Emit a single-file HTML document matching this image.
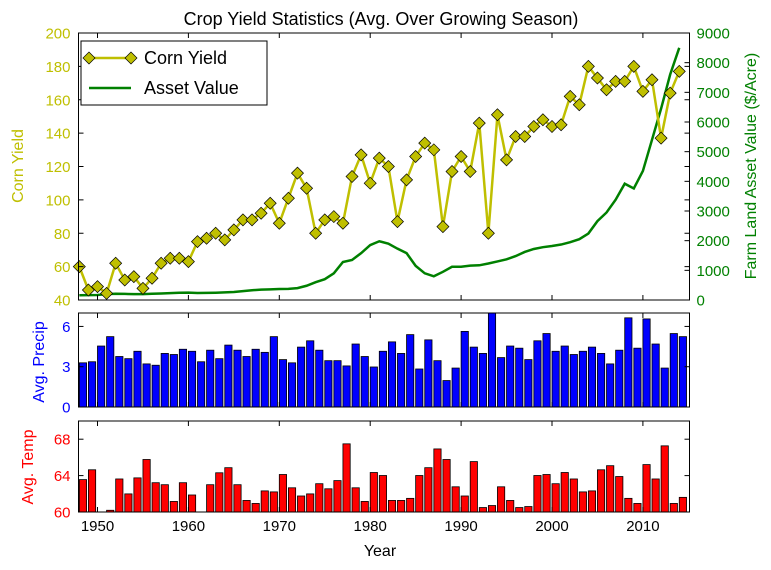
<!DOCTYPE html>
<html><head><meta charset="utf-8"><style>
body{margin:0;background:#fff}
svg{display:block;font-family:"Liberation Sans",sans-serif}
</style></head><body>
<svg id="chart" width="771" height="570" viewBox="0 0 771 570">
<rect width="771" height="570" fill="#fff"/>
<text x="381" y="25" font-size="18" text-anchor="middle">Crop Yield Statistics (Avg. Over Growing Season)</text>
<g id="g"></g>
</svg>
<script>
const years = [];
for (let y = 1948; y <= 2014; y++) years.push(y);
const cornYield = [60,46,48,44,62,52,54,47,53,62,65,65,63,75,77,80,76,82,88,88,92,98,86,101,116,107,80,88,90,86,114,127,110,125,120,87,112,126,134,130,84,117,126,117,146,80,151,124,138,138,144,148,144,145,162,157,180,173,166,171,171,180,165,172,137,164,177];
const assetValue = [160,165,170,200,210,205,200,200,210,220,230,245,250,235,240,245,255,270,300,330,350,360,370,375,400,480,600,700,900,1280,1350,1580,1850,1980,1900,1730,1580,1150,900,800,950,1120,1120,1160,1170,1230,1300,1370,1480,1620,1720,1780,1820,1870,1950,2050,2240,2660,2950,3380,3920,3760,4350,5400,6450,7600,8500];
const precip = [3.29,3.37,4.54,5.24,3.76,3.60,4.15,3.21,3.11,3.99,3.91,4.30,4.15,3.37,4.23,3.60,4.61,4.23,3.76,4.30,4.07,5.24,3.53,3.29,4.46,4.93,4.23,3.45,3.45,3.06,4.69,3.76,2.98,4.15,4.85,3.99,5.39,2.83,5.00,3.45,1.97,2.90,5.63,4.46,3.99,7.2,3.68,4.54,4.38,3.53,4.93,5.47,4.15,4.54,3.91,4.15,4.46,3.99,3.21,4.23,6.64,4.38,6.56,4.69,2.90,5.47,5.24];
const temp = [63.56,64.64,60.0,60.19,63.63,61.99,63.75,65.77,63.22,63.0,61.16,63.22,61.87,60.0,63.0,64.31,64.87,63.0,61.27,60.94,62.32,62.21,64.12,62.66,61.76,61.99,63.11,62.55,63.45,67.49,62.66,61.16,64.34,64.01,61.27,61.27,61.5,64.01,64.87,66.93,65.77,62.77,61.76,65.54,60.49,60.71,62.77,61.27,60.49,60.6,64.01,64.12,63.11,64.34,63.63,62.21,62.32,64.64,65.09,63.9,61.5,60.94,65.21,63.63,67.27,60.94,61.61];
const xTicks = [1950,1960,1970,1980,1990,2000,2010];
const yieldTicks = [40,60,80,100,120,140,160,180,200];
const assetTicks = [0,1000,2000,3000,4000,5000,6000,7000,8000,9000];
const precipTicks = [0,3,6];
const tempTicks = [60,64,68];

const NS='http://www.w3.org/2000/svg';
const G=document.getElementById('g');
function el(t,a,p){const e=document.createElementNS(NS,t);for(const k in a)e.setAttribute(k,a[k]);(p||G).appendChild(e);return e;}
const X0=78.5,X1=689.5;
const x=v=>97.5+(v-1950)*9.09;
const P1={t:33,b:300}, P2={t:313,b:407}, P3={t:421,b:512};
const yY=v=>P1.b-(v-40)/160*(P1.b-P1.t);
const yA=v=>P1.b-v/9000*(P1.b-P1.t);
const yP=v=>P2.b-Math.min(v,7)/7*(P2.b-P2.t);
const yT=v=>P3.b-(v-60)/10*(P3.b-P3.t);
const bw=x(0.8)-x(0);

precip.forEach((v,i)=>{const r=el('rect',{x:x(years[i]),y:yP(v),width:bw,height:P2.b-yP(v),fill:'#0000ff',stroke:'#000','stroke-width':0.8});

});
temp.forEach((v,i)=>{const r=el('rect',{x:x(years[i]),y:yT(v),width:bw,height:P3.b-yT(v),fill:'#ff0000',stroke:'#000','stroke-width':0.8});

});

const asset=el('polyline',{points:assetValue.map((v,i)=>x(years[i])+','+yA(v)).join(' '),fill:'none',stroke:'#008000','stroke-width':2.5});


const corn=el('polyline',{points:cornYield.map((v,i)=>x(years[i])+','+yY(v)).join(' '),fill:'none',stroke:'#bfbf00','stroke-width':2.5});


cornYield.forEach((v,i)=>{const cx=x(years[i]),cy=yY(v),s=6;
const m=el('polygon',{points:`${cx},${cy-s} ${cx+s},${cy} ${cx},${cy+s} ${cx-s},${cy}`,fill:'#bfbf00',stroke:'#000','stroke-width':0.7});

});

function frame(P,name){const r=el('rect',{x:X0,y:P.t,width:X1-X0,height:P.b-P.t,fill:'none',stroke:'#000','stroke-width':1});


xTicks.forEach(t=>{el('line',{x1:x(t),x2:x(t),y1:P.b,y2:P.b-5,stroke:'#000'});el('line',{x1:x(t),x2:x(t),y1:P.t,y2:P.t+5,stroke:'#000'});});}
frame(P1,'top-plot-frame');frame(P2,'precip-plot-frame');frame(P3,'temp-plot-frame');
function yticks(ticks,f,col,side,name){ticks.forEach(t=>{const yy=f(t);
if(side==='l'){el('line',{x1:X0,x2:X0+5,y1:yy,y2:yy,stroke:'#000'});el('line',{x1:X1,x2:X1-5,y1:yy,y2:yy,stroke:'#000'});
const tx=el('text',{x:X0-8,y:yy+5.5,'font-size':15,'text-anchor':'end',fill:col});tx.textContent=t;

}
else{el('line',{x1:X1,x2:X1-5,y1:yy,y2:yy,stroke:'#000'});
const tx=el('text',{x:X1+7,y:yy+5.5,'font-size':15,'text-anchor':'start',fill:col});tx.textContent=t;

}});}
yticks(yieldTicks,yY,'#bfbf00','l','yield-tick-label');
yticks(assetTicks,yA,'#008000','r','asset-tick-label');
yticks(precipTicks,yP,'#0000ff','l','precip-tick-label');
yticks(tempTicks,yT,'#ff0000','l','temp-tick-label');
xTicks.forEach(t=>{const tx=el('text',{x:x(t),y:531,'font-size':15,'text-anchor':'middle'});tx.textContent=t;

});

function lbl(txt,xx,yy,rot,col,name){const t=el('text',{x:xx,y:yy,'font-size':16,'text-anchor':'middle',fill:col,transform:`rotate(${rot} ${xx} ${yy})`});t.textContent=txt;

}
lbl('Year',380,556,0,'#000','x-axis-title');
lbl('Corn Yield',23,166,-90,'#bfbf00','corn-yield-axis-title');
lbl('Farm Land Asset Value ($/Acre)',756,166,-90,'#008000','asset-axis-title');
lbl('Avg. Precip',44,362,-90,'#0000ff','precip-axis-title');
lbl('Avg. Temp',33,467,-90,'#ff0000','temp-axis-title');

const lg=el('g',{});


el('rect',{x:81,y:41,width:186,height:64,fill:'#fff',stroke:'#000','stroke-width':1},lg);
el('line',{x1:89,x2:131,y1:58,y2:58,stroke:'#bfbf00','stroke-width':2.5},lg);
[89,131].forEach(cx=>el('polygon',{points:`${cx},52 ${cx+6},58 ${cx},64 ${cx-6},58`,fill:'#bfbf00',stroke:'#000','stroke-width':0.7},lg));
el('line',{x1:89,x2:131,y1:88,y2:88,stroke:'#008000','stroke-width':2.5},lg);
const l1=el('text',{x:144,y:64,'font-size':18},lg);l1.textContent='Corn Yield';


const l2=el('text',{x:144,y:94,'font-size':18},lg);l2.textContent='Asset Value';


</script>
</body></html>
